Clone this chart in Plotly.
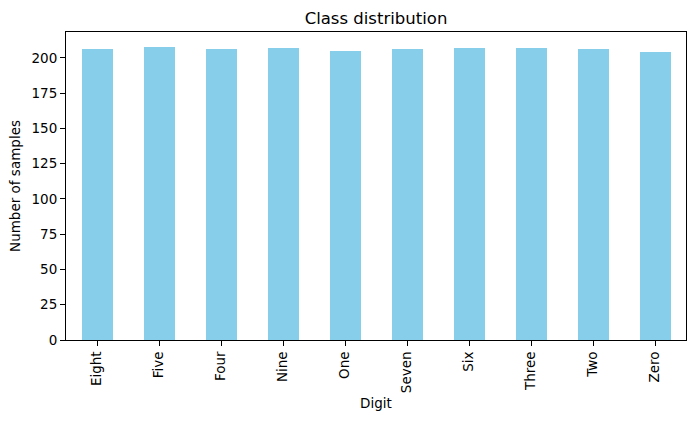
import plotly.graph_objects as go

digits = ["Eight", "Five", "Four", "Nine", "One", "Seven", "Six", "Three", "Two", "Zero"]
counts = [206, 208, 206, 207, 205, 206, 207, 207, 206, 204]
y_ticks = [0, 25, 50, 75, 100, 125, 150, 175, 200]

fig = go.Figure(go.Bar(x=list(range(len(digits))), y=counts, width=0.5,
                       marker=dict(color="#87CEEB", line=dict(width=0))))

font = "DejaVu Sans"
L, R, T, B = 66, 9, 32, 82
fig.update_layout(
    width=695, height=422,
    margin=dict(l=L, r=R, t=T, b=B),
    paper_bgcolor="white", plot_bgcolor="white",
    font=dict(family=font, size=14, color="black"),
    title=dict(text="Class distribution", x=(L + 695 - R) / 2 / 695, xanchor="center",
               y=1 - 18 / 422, yanchor="middle", font=dict(size=16.5, family=font, color="black")),
    showlegend=False,
    bargap=0,
)
fig.update_xaxes(
    tickmode="array", tickvals=list(range(len(digits))), ticktext=digits,
    tickangle=-90, range=[-0.5, len(digits) - 0.5],
    tickfont=dict(size=13.5, family=font, color="black"),
    showline=True, linecolor="black", linewidth=1, mirror=True,
    ticks="outside", ticklen=5, tickcolor="black", showgrid=False, zeroline=False,
    title=dict(text="Digit", standoff=6, font=dict(size=13.5, family=font, color="black")),
)
fig.update_yaxes(
    tickmode="array", tickvals=y_ticks, range=[0, max(counts) * 1.05],
    tickfont=dict(size=13.5, family=font, color="black"),
    showline=True, linecolor="black", linewidth=1, mirror=True,
    ticks="outside", ticklen=5, tickcolor="black", showgrid=False, zeroline=False,
    title=dict(text="Number of samples", standoff=7, font=dict(size=13.5, family=font, color="black")),
)
fig.write_html("out.html")
